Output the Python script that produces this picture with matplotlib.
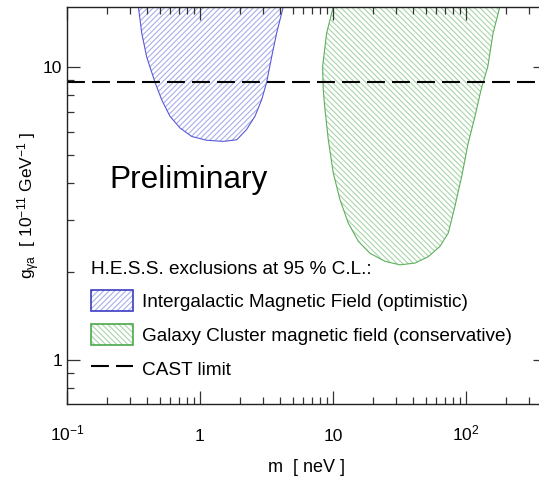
import matplotlib
matplotlib.use('Agg')
import matplotlib.pyplot as plt
from matplotlib.patches import Patch
from matplotlib.lines import Line2D
from matplotlib.legend_handler import HandlerTuple
from matplotlib.ticker import FixedLocator, FixedFormatter, LogLocator, NullFormatter

plt.rcParams['font.family'] = ['Liberation Sans', 'DejaVu Sans']
plt.rcParams['mathtext.fontset'] = 'custom'
plt.rcParams['mathtext.rm'] = 'Liberation Sans'
plt.rcParams['mathtext.it'] = 'Liberation Sans:italic'
plt.rcParams['mathtext.bf'] = 'Liberation Sans:bold'
plt.rcParams['hatch.linewidth'] = 0.8

# ---- data (mass in neV, coupling in 1e-11 GeV^-1) ----
igmf_mass = [0.344, 0.365, 0.397, 0.459, 0.515, 0.595, 0.707, 0.866, 1.12, 1.50,
             1.89, 2.24, 2.59, 2.91, 3.17, 3.46, 3.77, 4.23]
igmf_g = [16.0, 13.0, 10.8, 8.84, 7.71, 6.77, 6.18, 5.78, 5.61, 5.56,
          5.63, 6.10, 6.77, 7.71, 8.84, 10.8, 13.0, 16.0]

cluster_mass = [10.06, 8.96, 8.36, 8.45, 8.71, 9.22, 10.05, 11.29, 13.03, 15.5,
                19.0, 24.6, 31.9, 41.4, 52.1, 63.8, 73.7, 82.6, 92.9, 104,
                117, 130, 146, 160, 180]
cluster_g = [16.0, 13.0, 10.0, 8.35, 7.13, 5.64, 4.34, 3.52, 2.93, 2.54,
             2.31, 2.17, 2.11, 2.14, 2.25, 2.44, 2.71, 3.34, 4.22, 5.49,
             6.77, 8.35, 10.0, 13.0, 16.0]

cast_limit = 8.84

x_ticks = [0.1, 1, 10, 100]
x_ticklabels = ['10$^{-1}$', '1', '10', '10$^{2}$']
y_ticks = [1, 10]
y_ticklabels = ['1', '10']

labels = ['Intergalactic Magnetic Field (optimistic)',
          'Galaxy Cluster magnetic field (conservative)',
          'CAST limit']
legend_title = 'H.E.S.S. exclusions at 95 % C.L.:'

# ---- styles ----
blue_hatch, blue_edge, blue_leg = '#a9aee8', '#5a5ad6', '#3c3cc4'
green_hatch, green_edge, green_leg = '#a8d4a8', '#5cb05c', '#4aa84a'
hatch_blue = '//////'
hatch_green = '\\' * 6
dash_style = (0, (8.6, 3.4))

W, H = 539, 482
fig = plt.figure(figsize=(W / 100, H / 100), dpi=100)
ax = fig.add_axes([67 / W, 1 - 404 / H, (546 - 67) / W, (404 - 6.7) / H])
ax.set_xscale('log')
ax.set_yscale('log')
ax.set_xlim(0.1, 400)
ax.set_ylim(0.708, 16.0)

# regions
ax.fill(igmf_mass, igmf_g, facecolor='none', edgecolor=blue_hatch, hatch=hatch_blue, lw=0)
ax.fill(igmf_mass, igmf_g, fill=False, edgecolor=blue_edge, lw=0.8)
ax.fill(cluster_mass, cluster_g, facecolor='none', edgecolor=green_hatch, hatch=hatch_green, lw=0)
ax.fill(cluster_mass, cluster_g, fill=False, edgecolor=green_edge, lw=0.8)

ax.axhline(cast_limit, color='black', lw=1.5, linestyle=dash_style)

ax.text(0.21, 3.86, 'Preliminary', fontsize=22.8, va='baseline', ha='left')

# ticks
ax.xaxis.set_major_locator(FixedLocator(x_ticks))
ax.xaxis.set_major_formatter(FixedFormatter(x_ticklabels))
ax.xaxis.set_minor_locator(LogLocator(base=10, subs=range(2, 10), numticks=20))
ax.xaxis.set_minor_formatter(NullFormatter())
ax.yaxis.set_major_locator(FixedLocator(y_ticks))
ax.yaxis.set_major_formatter(FixedFormatter(y_ticklabels))
ax.yaxis.set_minor_locator(LogLocator(base=10, subs=range(2, 10), numticks=20))
ax.yaxis.set_minor_formatter(NullFormatter())

ax.tick_params(which='both', direction='in', top=True, right=True,
               width=0.9, color='#333333', labelsize=12.5)
ax.tick_params(which='major', length=9.5)
ax.tick_params(which='minor', length=5)
ax.tick_params(axis='x', which='major', pad=26.5)
for lab in ax.get_xticklabels():
    lab.set_va('baseline')

for sp in ax.spines.values():
    sp.set_linewidth(1.0)
    sp.set_color('#222222')

ax.set_xlabel('m  [ neV ]', fontsize=13)
ax.xaxis.label.set_va('center')
ax.xaxis.set_label_coords(0.5, -(468 - 404) / 397.3)

ax.set_ylabel('g$_{\\mathregular{γa}}$  [ 10$^{-11}$ GeV$^{-1}$ ]', fontsize=12.5)
ax.yaxis.label.set_va('center')
ax.yaxis.set_label_coords((29 - 67) / 479, 0.5)

handles = [
    (Patch(facecolor='white', edgecolor=blue_hatch, hatch=hatch_blue, lw=0),
     Patch(fill=False, edgecolor=blue_leg, lw=1.2)),
    (Patch(facecolor='white', edgecolor=green_hatch, hatch=hatch_green, lw=0),
     Patch(fill=False, edgecolor=green_leg, lw=1.2)),
    Line2D([], [], color='black', lw=1.5, linestyle=dash_style),
]
leg = ax.legend(handles, labels, title=legend_title, alignment='left',
                loc='upper left', bbox_to_anchor=((91 - 67) / 479, (404 - 260.5) / 397.3),
                frameon=False, fontsize=13.7, title_fontsize=13.7,
                handlelength=2.19, handleheight=1.3, handletextpad=0.48,
                labelspacing=0.68, borderpad=0, borderaxespad=0,
                handler_map={tuple: HandlerTuple(ndivide=1)})

fig.savefig('out.png', dpi=100)
